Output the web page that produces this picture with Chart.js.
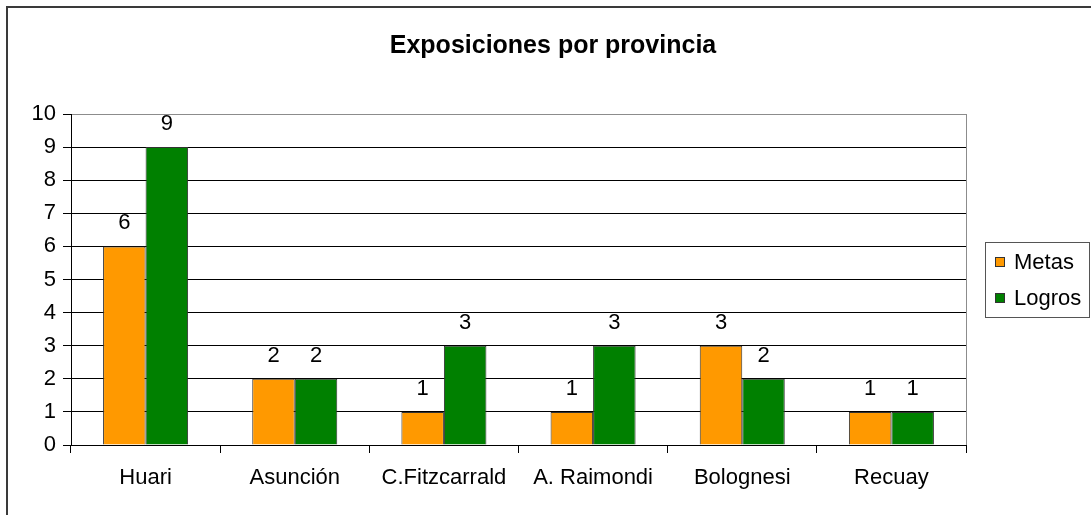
<!DOCTYPE html>
<html>
<head>
<meta charset="utf-8">
<title>Exposiciones por provincia</title>
<script src="https://cdn.jsdelivr.net/npm/chart.js@4/dist/chart.umd.min.js"></script>
<style>
  html,body{margin:0;padding:0;background:#fff;}
  #wrap{position:relative;width:1091px;height:515px;overflow:hidden;}
  #frame{position:absolute;left:6px;top:6px;width:1200px;height:600px;border-left:2px solid #3a3a3a;border-top:2px solid #3a3a3a;pointer-events:none;}
  canvas{position:absolute;left:0;top:0;}
</style>
</head>
<body>
<div id="wrap">
  <canvas id="chart" width="1091" height="515"></canvas>
  <div id="frame"></div>
</div>
<script>
// data
const provincias = ['Huari','Asunción','C.Fitzcarrald','A. Raimondi','Bolognesi','Recuay'];
const metas = [6, 2, 1, 1, 3, 1];
const logros = [9, 2, 3, 3, 2, 1];
const yTicks = [0,1,2,3,4,5,6,7,8,9,10];
const titulo = 'Exposiciones por provincia';

const FONT = "'Liberation Sans', Arial, sans-serif";

// value labels above each bar
const valueLabels = {
  id:'valueLabels',
  afterDatasetsDraw(chart){
    const ctx = chart.ctx;
    ctx.save();
    ctx.font = '22px ' + FONT;
    ctx.fillStyle = '#000';
    ctx.textAlign = 'center';
    ctx.textBaseline = 'alphabetic';
    chart.data.datasets.forEach((ds,i)=>{
      chart.getDatasetMeta(i).data.forEach((bar,j)=>{
        ctx.fillText(String(ds.data[j]), bar.x, bar.y - 17);
      });
    });
    ctx.restore();
  }
};

// title (centred on the whole chart, not the plot), plot frame right edge, boxed legend
const frameAndLegend = {
  id:'frameAndLegend',
  afterDraw(chart){
    const ctx = chart.ctx;
    const a = chart.chartArea;
    ctx.save();
    ctx.fillStyle = '#000';
    ctx.font = 'bold 25px ' + FONT;
    ctx.textAlign = 'center';
    ctx.textBaseline = 'middle';
    ctx.fillText(titulo, 553, 46);

    ctx.strokeStyle = '#8c8c8c';
    ctx.lineWidth = 1;
    ctx.beginPath();
    ctx.moveTo(Math.round(a.right)+0.5, a.top);
    ctx.lineTo(Math.round(a.right)+0.5, a.bottom);
    ctx.stroke();

    const w = 104, h = 75;
    const lx = Math.round(a.right) + 19;
    const ly = Math.round((a.top + a.bottom)/2 - h/2);
    ctx.strokeStyle = '#555';
    ctx.strokeRect(lx+0.5, ly+0.5, w, h);
    ctx.font = '22px ' + FONT;
    ctx.textAlign = 'left';
    chart.data.datasets.forEach((ds,i)=>{
      const cy = ly + 20 + i*36;
      ctx.fillStyle = ds.backgroundColor;
      ctx.fillRect(lx+10, cy-5, 10, 10);
      ctx.strokeStyle = '#333';
      ctx.strokeRect(lx+10.5, cy-4.5, 9, 9);
      ctx.fillStyle = '#000';
      ctx.fillText(ds.label, lx+29, cy+1);
    });
    ctx.restore();
  }
};

new Chart(document.getElementById('chart'),{
  type:'bar',
  data:{
    labels: provincias,
    datasets:[
      {label:'Metas', data:metas, backgroundColor:'#FF9900', borderColor:'#333', borderWidth:1,
       categoryPercentage:0.57, barPercentage:1.0},
      {label:'Logros', data:logros, backgroundColor:'#008000', borderColor:'#333', borderWidth:1,
       categoryPercentage:0.57, barPercentage:1.0}
    ]
  },
  options:{
    responsive:false,
    animation:false,
    devicePixelRatio:1,
    layout:{padding:{left:0, right:125, top:114, bottom:0}},
    plugins:{
      legend:{display:false},
      tooltip:{enabled:false},
      title:{display:false}
    },
    scales:{
      x:{
        offset:true,
        grid:{offset:true, drawOnChartArea:false, tickLength:8, color:'#000', tickColor:'#000'},
        border:{color:'#000', width:1},
        ticks:{color:'#000', font:{family:FONT, size:22}, padding:12, maxRotation:0, autoSkip:false},
        afterFit(scale){ scale.height = 70; }
      },
      y:{
        min:0, max:10,
        afterBuildTicks(scale){ scale.ticks = yTicks.map(v=>({value:v})); },
        grid:{color:(c)=> c.tick && c.tick.value === 10 ? '#8c8c8c' : '#000', tickLength:8, tickColor:'#000'},
        border:{color:'#000', width:1},
        ticks:{color:'#000', font:{family:FONT, size:22}, padding:7},
        afterFit(scale){ scale.width = 71; }
      }
    }
  },
  plugins:[valueLabels, frameAndLegend]
});
</script>
</body>
</html>
